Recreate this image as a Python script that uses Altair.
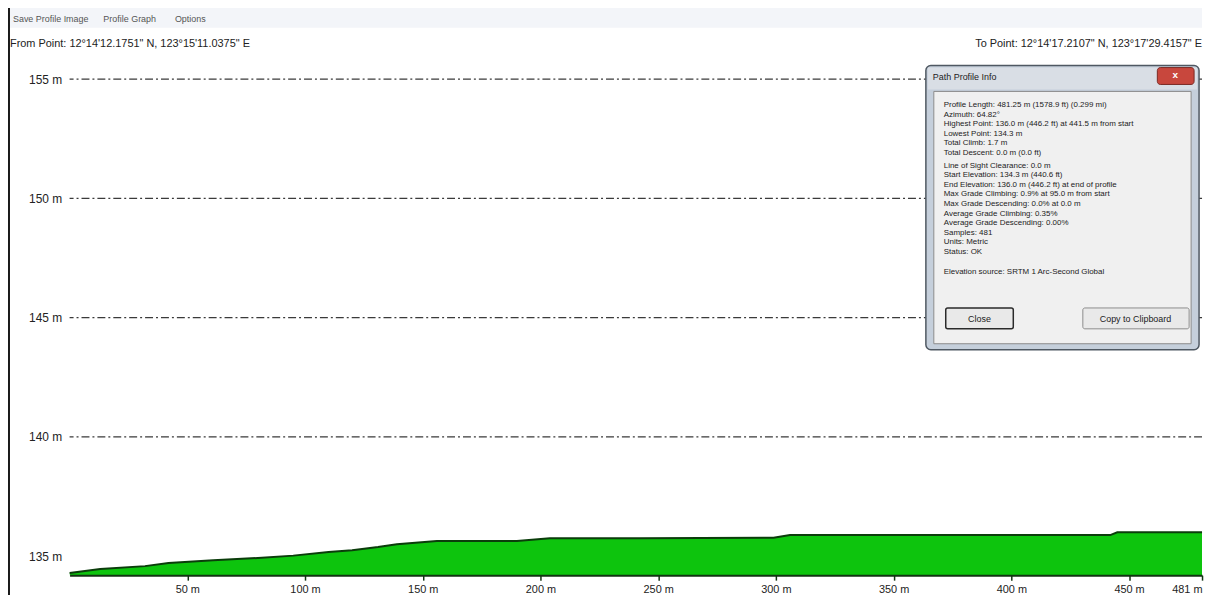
import altair as alt
import pandas as pd

# ---- data (distance along path, ground elevation) ----
distance_m = [0, 13, 32, 42, 61, 80, 95, 110, 120, 131, 139, 156, 190, 204, 242, 299, 306, 442, 445, 481]
elevation_m = [134.29, 134.46, 134.58, 134.71, 134.83, 134.92, 135.02, 135.17, 135.25, 135.38,
               135.5, 135.63, 135.63, 135.75, 135.75, 135.77, 135.88, 135.88, 136.0, 136.0]
y_tick_values = [135, 140, 145, 150, 155]
y_grid_values = [140, 145, 150, 155]
x_tick_values = [50, 100, 150, 200, 250, 300, 350, 400, 450, 481]

menu_items = ["Save Profile Image", "Profile Graph", "Options"]
from_text = 'From Point: 12°14\'12.1751" N, 123°15\'11.0375" E'
to_text = 'To Point: 12°14\'17.2107" N, 123°17\'29.4157" E'
dialog_title = "Path Profile Info"
dialog_block1 = [
    "Profile Length: 481.25 m (1578.9 ft) (0.299 mi)",
    "Azimuth: 64.82°",
    "Highest Point: 136.0 m (446.2 ft) at 441.5 m from start",
    "Lowest Point: 134.3 m",
    "Total Climb: 1.7 m",
    "Total Descent: 0.0 m (0.0 ft)",
]
dialog_block2 = [
    "Line of Sight Clearance: 0.0 m",
    "Start Elevation: 134.3 m (440.6 ft)",
    "End Elevation: 136.0 m (446.2 ft) at end of profile",
    "Max Grade Climbing: 0.9% at 95.0 m from start",
    "Max Grade Descending: 0.0% at 0.0 m",
    "Average Grade Climbing: 0.35%",
    "Average Grade Descending: 0.00%",
    "Samples: 481",
    "Units: Metric",
    "Status: OK",
]
dialog_block3 = ["Elevation source: SRTM 1 Arc-Second Global"]
button_labels = ["Close", "Copy to Clipboard"]

FONT = "Liberation Sans"

profile = pd.DataFrame({"distance": distance_m, "elevation": elevation_m})
grid_df = pd.DataFrame({"elevation": y_grid_values})

y_scale = alt.Scale(domain=[134.2, 155.65], nice=False, zero=False)

x_enc = alt.X(
    "distance:Q",
    scale=alt.Scale(domain=[0, 481], nice=False, zero=False),
    axis=alt.Axis(
        values=x_tick_values, labelExpr="datum.value + ' m'", title=None, grid=False,
        domainColor="#123312", domainWidth=2, tickColor="#123312", tickSize=5, tickWidth=1.5,
        labelFontSize=11, labelColor="#222222", labelFont=FONT, labelPadding=3,
        labelFlush=True, labelOverlap=False, zindex=1,
    ),
)
y_enc = alt.Y(
    "elevation:Q",
    scale=y_scale,
    axis=alt.Axis(
        values=y_tick_values, labelExpr="datum.value + ' m'", title=None,
        grid=False, domain=False, ticks=False, labelFontSize=12, labelColor="#222222",
        labelFont=FONT, labelPadding=8,
    ),
)

grid = alt.Chart(grid_df).mark_rule(
    color="#3a3a3a", strokeDash=[8, 3, 2, 3], strokeWidth=1.3
).encode(y=alt.Y("elevation:Q", scale=y_scale))

area = alt.Chart(profile).mark_area(color="#0dc40d", clip=True, opacity=1).encode(x=x_enc, y=y_enc)
line = alt.Chart(profile).mark_line(color="#0b3d0b", strokeWidth=2).encode(x=x_enc, y=y_enc)

one = pd.DataFrame({"k": [0]})


def rect(x, x2, y, y2, fill, stroke=None, sw=1, radius=0):
    kw = dict(fill=fill, cornerRadius=radius)
    if stroke:
        kw.update(stroke=stroke, strokeWidth=sw)
    return alt.Chart(one).mark_rect(**kw).encode(
        x=alt.value(x), x2=alt.value(x2), y=alt.value(y), y2=alt.value(y2))


def text(x, y, s, size=11, color="#222222", align="left", baseline="middle", weight="normal", lh=None):
    kw = dict(text=s, fontSize=size, color=color, align=align, baseline=baseline, font=FONT,
              fontWeight=weight)
    if lh:
        kw.update(lineBreak="\n", lineHeight=lh)
    return alt.Chart(one).mark_text(**kw).encode(x=alt.value(x), y=alt.value(y))


decor = [
    # window menu strip and left border
    rect(-62, 1140, -58, -36, "#f3f5f9"),
    alt.Chart(one).mark_rule(color="#c9ced6", strokeWidth=1).encode(
        x=alt.value(-62), x2=alt.value(1140), y=alt.value(-57)),
    alt.Chart(one).mark_rule(color="#1a1a1a", strokeWidth=2).encode(
        x=alt.value(-61), y=alt.value(-58), y2=alt.value(535)),
    text(-57, -45, menu_items[0], size=9, color="#555555"),
    text(34, -45, menu_items[1], size=9, color="#555555"),
    text(106, -45, menu_items[2], size=9, color="#555555"),
    text(-60, -20, from_text, size=11),
    text(1140, -20, to_text, size=11, align="right"),
    # dialog window
    rect(862, 1137, 2, 288, "#c5cfdb", stroke="#4f5862", sw=1.5, radius=5),
    rect(864, 1135, 4, 26, "#d9dee5"),
    text(869, 14, dialog_title, size=9, color="#222222"),
    rect(1095, 1132, 4, 21, "#c8473d", stroke="#7a2a24", radius=3),
    text(1113, 12, "x", size=10, color="white", align="center", weight="bold"),
    rect(870, 1129, 28, 282, "#f0f0f0", stroke="#8a8a8a"),
    text(880, 38, "\n".join(dialog_block1), size=8, baseline="top", lh=9.6),
    text(880, 99, "\n".join(dialog_block2), size=8, baseline="top", lh=9.6),
    text(880, 206, "\n".join(dialog_block3), size=8, baseline="top", lh=9.6),
    rect(882, 950, 246, 267, "#e9e9e9", stroke="#2a2a2a", sw=1.5, radius=2),
    text(916, 257, button_labels[0], size=9, align="center"),
    rect(1020, 1127, 246, 267, "#e9e9e9", stroke="#8c8c8c", sw=1, radius=2),
    text(1073, 257, button_labels[1], size=9, align="center"),
]

chart = alt.layer(grid, area, line, *decor).properties(
    width=1140,
    height=515,
    padding={"left": 62, "top": 54, "right": 5, "bottom": 20},
    autosize=alt.AutoSizeParams(type="none"),
    background="white",
).configure_view(strokeWidth=0)

chart.save("out.html", embed_options={"renderer": "svg", "actions": False})
